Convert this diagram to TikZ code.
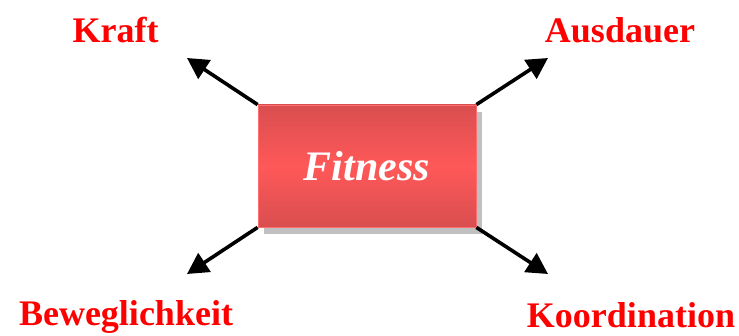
\documentclass[tikz,border=0pt]{standalone}
\usepackage{fontspec}
\setmainfont{Liberation Serif}
\usetikzlibrary{arrows.meta,shadows}
\definecolor{labelred}{RGB}{255,0,0}
\definecolor{boxdark}{RGB}{217,78,80}
\definecolor{boxlight}{RGB}{255,88,88}
\definecolor{boxedge}{RGB}{255,110,110}
\definecolor{shadowgray}{RGB}{192,192,192}
\tikzset{
  label/.style={text=labelred, font=\bfseries\fontsize{36}{36}\selectfont, anchor=base, inner sep=0pt},
  arrowline/.style={line width=3.6pt, -{Triangle[length=21pt, width=22pt]}},
  centerbox/.style={draw=boxedge, line width=0.8pt, minimum width=218pt, minimum height=122pt,
    top color=boxdark, bottom color=boxdark, middle color=boxlight,
    text=white, font=\bfseries\itshape\fontsize{42}{42}\selectfont, inner sep=0pt}
}
\begin{document}
\begin{tikzpicture}[x=1pt, y=-1pt]
\useasboundingbox (0,0) rectangle (739,336);
% drop shadow behind the central box
\fill[shadowgray] (264,112) rectangle (482,234);
\node[centerbox] (fit) at (367,166) {Fitness};
% outer labels
\node[label] (kraft) at (115.5,43) {Kraft};
\node[label] (aus) at (620,43) {Ausdauer};
\node[label] (bew) at (126,326) {Beweglichkeit};
\node[label] (koo) at (631,328) {Koordination};
% arrow tips
\coordinate (tl) at (187,58);
\coordinate (tr) at (548,58);
\coordinate (bl) at (187,274);
\coordinate (br) at (548,274);
\draw[arrowline] (fit.north west) -- (tl);
\draw[arrowline] (fit.north east) -- (tr);
\draw[arrowline] (fit.south west) -- (bl);
\draw[arrowline] (fit.south east) -- (br);
\end{tikzpicture}
\end{document}
